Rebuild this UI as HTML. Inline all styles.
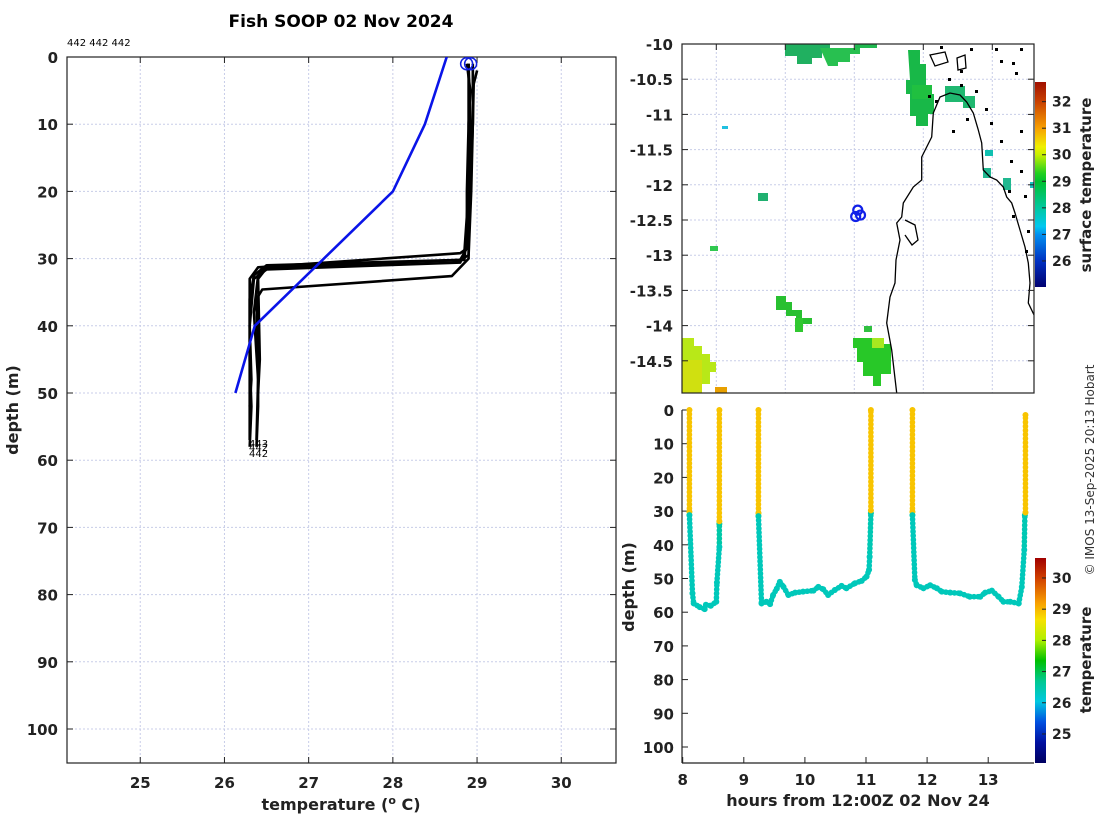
<!DOCTYPE html>
<html><head><meta charset="utf-8">
<style>
html,body{margin:0;padding:0;background:#fff;}
body{width:1100px;height:820px;overflow:hidden;}
svg{display:block;font-family:"DejaVu Sans","Liberation Sans",sans-serif;}
.tk{font-size:15px;font-weight:bold;fill:#222;}
.lab{font-size:16px;font-weight:bold;fill:#222;}
</style></head>
<body>
<svg id="fig" width="1100" height="820" viewBox="0 0 1100 820" xmlns="http://www.w3.org/2000/svg">
<defs>
<linearGradient id="sstGrad" x1="0" y1="0" x2="0" y2="1">
<stop offset="0" stop-color="#a01000"/><stop offset="0.096" stop-color="#c84000"/>
<stop offset="0.226" stop-color="#f8a000"/><stop offset="0.316" stop-color="#f0f000"/>
<stop offset="0.355" stop-color="#c8f000"/><stop offset="0.446" stop-color="#20d020"/>
<stop offset="0.485" stop-color="#00c030"/><stop offset="0.615" stop-color="#00c8a0"/>
<stop offset="0.705" stop-color="#00c8f0"/><stop offset="0.744" stop-color="#0090f0"/>
<stop offset="0.874" stop-color="#0030c0"/><stop offset="1" stop-color="#000070"/>
</linearGradient>
<linearGradient id="tGrad" x1="0" y1="0" x2="0" y2="1">
<stop offset="0" stop-color="#a00000"/><stop offset="0.1" stop-color="#d04000"/>
<stop offset="0.22" stop-color="#f8a000"/><stop offset="0.3" stop-color="#f8e000"/>
<stop offset="0.4" stop-color="#b0f000"/><stop offset="0.5" stop-color="#00c000"/>
<stop offset="0.6" stop-color="#00c890"/><stop offset="0.7" stop-color="#00c8e0"/>
<stop offset="0.8" stop-color="#0050e0"/><stop offset="0.9" stop-color="#0010a0"/>
<stop offset="1" stop-color="#000060"/>
</linearGradient>
<clipPath id="mapClip"><rect x="682" y="44" width="352" height="349"/></clipPath>
<clipPath id="leftClip"><rect x="67" y="57" width="549" height="706"/></clipPath>
</defs>
<g id="left"></g>
<g id="map"></g>
<g id="ts"></g>
<text x="341" y="27" text-anchor="middle" style="font-size:17px;font-weight:bold">Fish SOOP 02 Nov 2024</text>
<text x="67" y="46" style="font-size:10px">442 442 442</text>
<text transform="translate(1094,470) rotate(-90)" text-anchor="middle" style="font-size:12px;fill:#333">© IMOS 13-Sep-2025 20:13 Hobart</text>
</svg>
<script>
// ---------- profile data ----------
const blueTemps=[28.64,28.51,28.38,28.0,26.36,26.13];
const blueDepths=[0,5,10,20,40,50];
const p1Temps=[28.88,28.92,28.9,28.92,28.9,28.8,26.5,26.35,26.3,26.3,26.32,26.3];
const p1Depths=[1,5,10,20,28,30.2,31.0,32.5,36,45,52,58];
const p2Temps=[28.95,28.95,28.95,28.9,28.9,28.7,26.45,26.38,26.4,26.4,26.38];
const p2Depths=[2,5,10,20,30,32.6,34.6,36,45,52,58];
const p3Temps=[28.9,28.9,28.88,28.88,28.8,26.4,26.3,26.3,26.3,26.3];
const p3Depths=[1,10,20,28.5,29.2,31.3,33,40,50,57];
const p4Temps=[28.95,28.95,28.93,28.9,28.8,26.5,26.4,26.42,26.4];
const p4Depths=[1,10,20,29.5,30.2,31.4,33,45,50];
const p5Temps=[28.9,28.92,28.9,28.85,28.8,26.5,26.35,26.3,26.32,26.3];
const p5Depths=[1,10,20,29,30.6,31.6,33,40,48,52];
const p6Temps=[29.0,28.96,28.95,28.92,28.85,26.5,26.4,26.35,26.4,26.38];
const p6Depths=[2,4,10,20,30.2,31.2,32.5,38,48,57];
const tempTicks=[25,26,27,28,29,30];
const depthTicks=[0,10,20,30,40,50,60,70,80,90,100];
// ---------- depth-time data ----------
const tsHours=[8.11,8.11,8.11,8.16,8.18,8.28,8.36,8.38,8.46,8.55,8.56,8.60,8.60,8.60,8.60,
 null,9.24,9.24,9.24,9.29,9.37,9.43,9.48,9.54,9.59,9.65,9.73,9.84,9.97,10.14,10.22,10.30,10.38,10.49,10.60,10.68,10.82,10.93,11.01,11.05,11.06,11.08,11.08,11.08,
 null,11.76,11.76,11.76,11.80,11.83,11.94,12.05,12.16,12.24,12.38,12.54,12.70,12.87,12.95,13.06,13.17,13.25,13.36,13.50,13.55,13.59,13.60,13.61,13.61];
const tsDepths=[0,30.2,31.2,54.4,57.4,58.5,59.1,57.8,58.1,56.9,51.2,40.6,33.8,33.0,0,
 null,0,30.6,31.5,57.4,56.9,57.6,54.9,53,51,52.5,54.9,54.2,53.9,53.6,52.5,53.2,54.9,53.4,52.2,52.9,51.4,50.7,49.4,47.4,43.5,30.6,29.8,0,
 null,0,30.2,31.2,50.4,52,52.9,52,52.9,53.9,54.2,54.4,55.4,55.4,54.2,53.6,55.4,56.9,56.9,57.4,52.5,41.5,31.2,30.4,1.5];
const tsTemps=[28.9,28.9,26.35,26.35,26.35,26.35,26.35,26.35,26.35,26.35,26.35,26.35,26.5,28.9,28.9,
 null,28.9,28.9,26.4,26.35,26.35,26.35,26.35,26.35,26.35,26.35,26.35,26.35,26.35,26.35,26.35,26.35,26.35,26.35,26.35,26.35,26.35,26.35,26.35,26.35,26.35,26.4,28.9,28.9,
 null,28.9,28.9,26.4,26.35,26.35,26.35,26.35,26.35,26.35,26.35,26.35,26.35,26.35,26.35,26.35,26.35,26.35,26.35,26.35,26.35,26.35,26.4,28.9,28.9];
const hourTicks=[8,9,10,11,12,13];
// ---------- map data ----------
const lonTicks=[139,140,141,142,143];
const latTicks=[-10,-10.5,-11,-11.5,-12,-12.5,-13,-13.5,-14,-14.5];
const stationLons=[141.05,141.02,141.09];
const stationLats=[-12.36,-12.45,-12.43];
const sstTicks=[26,27,28,29,30,31,32];
const tTicks=[25,26,27,28,29,30];

const NS='http://www.w3.org/2000/svg';
function mk(parent,tag,attrs){const e=document.createElementNS(NS,tag);for(const k in attrs)e.setAttribute(k,attrs[k]);parent.appendChild(e);return e;}
function txt(parent,x,y,s,cls,anchor){const t=mk(parent,'text',{x:x,y:y,'text-anchor':anchor||'middle',class:cls});t.textContent=s;return t;}

// ===== LEFT PROFILE PLOT =====
const L=document.getElementById('left');
const lx=t=>67+(t-24.13)*84.2;
const ly=d=>57+d*6.72;
for(const t of tempTicks){
 const g=mk(L,'line',{x1:lx(t),x2:lx(t),y1:57,y2:763,stroke:'#c8cde8','stroke-dasharray':'2,2'});
 
 
 mk(L,'line',{x1:lx(t),x2:lx(t),y1:763,y2:757,stroke:'#222'});
 mk(L,'line',{x1:lx(t),x2:lx(t),y1:57,y2:63,stroke:'#222'});
 const tl=txt(L,lx(t),788,String(t),'tk');
 
 
}
for(const d of depthTicks){
 if(d>0){const g=mk(L,'line',{x1:67,x2:616,y1:ly(d),y2:ly(d),stroke:'#c8cde8','stroke-dasharray':'2,2'});
 
 }
 mk(L,'line',{x1:67,x2:73,y1:ly(d),y2:ly(d),stroke:'#222'});
 mk(L,'line',{x1:616,x2:610,y1:ly(d),y2:ly(d),stroke:'#222'});
 const tl=txt(L,58,ly(d)+6,String(d),'tk','end');
 
 
}
const lr=mk(L,'rect',{x:67,y:57,width:549,height:706,fill:'none',stroke:'#222','stroke-width':1.2});


const lp=mk(L,'g',{'clip-path':'url(#leftClip)'});
const profiles=[[p1Temps,p1Depths],[p2Temps,p2Depths],[p3Temps,p3Depths],[p4Temps,p4Depths],[p5Temps,p5Depths],[p6Temps,p6Depths]];
profiles.forEach((p,i)=>{
 const pts=p[0].map((t,j)=>lx(t).toFixed(1)+','+ly(p[1][j]).toFixed(1)).join(' ');
 const pl=mk(lp,'polyline',{points:pts,fill:'none',stroke:'#000','stroke-width':2.6,'stroke-linejoin':'round'});
 
 
});
{
 const pts=blueTemps.map((t,j)=>lx(t).toFixed(1)+','+ly(blueDepths[j]).toFixed(1)).join(' ');
 const bl=mk(lp,'polyline',{points:pts,fill:'none',stroke:'#0a14e8','stroke-width':2.6});
 
 
}
for(const dx of [-2,2]){
 const c=mk(L,'circle',{cx:lx(28.9)+dx,cy:ly(1),r:6,fill:'none',stroke:'#1020e0','stroke-width':1.5});
 
 
}
[['443',447],['442',451],['442',457]].forEach(([s,y])=>{
 const t=mk(L,'text',{x:249,y:y,style:'font-size:10px'});t.textContent=s;
 
 
});
{const t=mk(L,'text',{transform:'translate(18,410) rotate(-90)','text-anchor':'middle',class:'lab'});t.textContent='depth (m)';


const t2=mk(L,'text',{x:341,y:810,'text-anchor':'middle',class:'lab'});
t2.innerHTML='temperature (<tspan dy="-6" style="font-size:11px">o</tspan><tspan dy="6"> C)</tspan>';

}

// ===== MAP =====
const M=document.getElementById('map');
const mx=lon=>854.3+(lon-141)*69;
const my=lat=>44+(-10-lat)*70.4;
const mg=mk(M,'g',{'clip-path':'url(#mapClip)'});
for(const lon of lonTicks){
 mk(mg,'line',{x1:mx(lon),x2:mx(lon),y1:44,y2:393,stroke:'#c8cde8','stroke-dasharray':'2,2'});
 mk(M,'line',{x1:mx(lon),x2:mx(lon),y1:44,y2:50,stroke:'#222'});
 const tl=txt(M,mx(lon),421,String(lon),'tk');
 
 
}
for(const lat of latTicks){
 mk(mg,'line',{x1:682,x2:1034,y1:my(lat),y2:my(lat),stroke:'#c8cde8','stroke-dasharray':'2,2'});
 mk(M,'line',{x1:682,x2:688,y1:my(lat),y2:my(lat),stroke:'#222'});
 mk(M,'line',{x1:1034,x2:1028,y1:my(lat),y2:my(lat),stroke:'#222'});
 const tl=txt(M,673,my(lat)+6,String(lat),'tk','end');
 
 
}
const patches=[
 ['#20b060','M785 42h45v8h-8v8h-10v6h-15v-8h-12z'],['#28c050','M820 48h40v6h-10v8h-12v4h-10z'],
 ['#20b850','M855 42h22v6h-22z'],['#18b848','M908 50h12v14h6v30h8v20h-6v12h-12v-10h-6v-22h-4v-14h4z'],
 ['#20c040','M912 85h20v14h-20z'],['#20b870','M945 86h20v10h10v12h-12v-6h-18z'],
 ['#10c0b0','M985 150h8v6h-8z'],['#20b890','M983 168h8v10h-8z'],['#20b890','M1003 178h8v12h-8z'],
 ['#18c0c0','M1030 182h4v6h-4z'],['#20b070','M758 193h10v8h-10z'],['#30c850','M710 246h8v5h-8z'],
 ['#28c030','M776 296h10v6h6v8h10v8h10v6h-16v-8h-10v-6h-10z'],['#30c830','M795 318h8v14h-8z'],
 ['#30c040','M864 326h8v6h-8z'],
 ['#28c828','M857 338h26v6h8v30h-10v12h-8v-10h-10v-14h-6v-14h-4v-10z'],['#a8e820','M872 338h12v10h-12z'],
 ['#b8e818','M682 338h12v8h8v8h8v8h6v10h-6v12h-36z'],['#d0e010','M682 360h20v33h-20z'],
 ['#e8a000','M715 387h12v6h-12z'],['#20c0e0','M722 126h6v3h-6z']
];
patches.forEach((p,i)=>{
 const e=mk(mg,'path',{d:p[1],fill:p[0]});
 
 
});
const coast=mk(mg,'path',{d:'M896.7 393 L891.7 350 L886.7 323 L890 297 L895 283 L896 260 L900 240 L896.7 223 L901.7 217 L903.3 203 L913.3 187 L921.7 180 L921.7 157 L931.7 137 L933.3 113 L940 97 L950 93 L960 95 L966.7 102 L973.3 113 L978.3 130 L981.7 143 L983.3 170 L990 177 L996.7 180 L1003.3 187 L1006.7 197 L1011.7 203 L1015 213 L1020 230 L1025 247 L1028.3 263 L1030 283 L1028.3 303 L1035 317 M905 220 L915 225 L918 240 L912 245 L905 235 M930 55 L945 52 L948 62 L935 66 Z M957 58 L965 55 L966 68 L958 70 Z',fill:'none',stroke:'#000','stroke-width':1.3});


[[940,46],[948,78],[960,84],[975,90],[985,108],[990,122],[1000,60],[1012,62],[1020,48],[1015,72],[995,48],[970,48],[960,70],[1000,140],[1010,160],[1020,170],[1008,190],[1012,215],[1024,195],[1027,230],[1020,130],[1025,250],[935,100],[928,95],[966,118],[952,130]].forEach(([x,y])=>{
 const d=mk(mg,'rect',{x:x,y:y,width:3,height:3,fill:'#000'});
 
 
});
stationLons.forEach((lon,i)=>{
 const c=mk(M,'circle',{cx:mx(lon),cy:my(stationLats[i]),r:4.5,fill:'none',stroke:'#1020e8','stroke-width':2.2});
 
 
});
const mr=mk(M,'rect',{x:682,y:44,width:352,height:349,fill:'none',stroke:'#222','stroke-width':1.2});


const sy=t=>82+(32.74-t)*26.55;
const cb1=mk(M,'rect',{x:1035,y:82,width:11,height:205,fill:'url(#sstGrad)'});


for(const t of sstTicks){
 mk(M,'line',{x1:1046,x2:1042,y1:sy(t),y2:sy(t),stroke:'#222'});
 const tl=txt(M,1052,sy(t)+5,String(t),'tk','start');
 tl.style.fontSize='14px';
 
 
}
{const t=mk(M,'text',{transform:'translate(1091,185) rotate(-90)','text-anchor':'middle',class:'lab',style:'font-size:15px'});t.textContent='surface temperature';

}

// ===== DEPTH-TIME PLOT =====
const T=document.getElementById('ts');
mk(T,'rect',{x:640,y:403,width:394,height:360,fill:'#fff'});
const hx=h=>682.7+(h-8)*61.1;
const dy=d=>410+d*3.37;
for(const h of hourTicks){
 mk(T,'line',{x1:hx(h),x2:hx(h),y1:763,y2:757,stroke:'#222'});
 const tl=txt(T,hx(h),785,String(h),'tk');
 
 
}
for(const d of depthTicks){
 mk(T,'line',{x1:682,x2:688,y1:dy(d),y2:dy(d),stroke:'#222'});
 const tl=txt(T,674,dy(d)+6,String(d),'tk','end');
 
 
}
mk(T,'line',{x1:682,x2:682,y1:410,y2:763,stroke:'#222','stroke-width':1.2});
mk(T,'line',{x1:682,x2:1034,y1:763,y2:763,stroke:'#222','stroke-width':1.2});
const tmin=24.07,tmax=30.64;
const stops=[[0,[160,0,0]],[0.1,[208,64,0]],[0.22,[248,160,0]],[0.3,[248,224,0]],[0.4,[176,240,0]],[0.5,[0,192,0]],[0.6,[0,200,144]],[0.7,[0,200,224]],[0.8,[0,80,224]],[0.9,[0,16,160]],[1,[0,0,96]]];
function tcol(t){
 const f=Math.max(0,Math.min(1,(tmax-t)/(tmax-tmin)));
 for(let i=1;i<stops.length;i++){if(f<=stops[i][0]){const a=stops[i-1],b=stops[i];const u=(f-a[0])/(b[0]-a[0]);
 return 'rgb('+a[1].map((v,k)=>Math.round(v+(b[1][k]-v)*u)).join(',')+')';}}
 return 'rgb(0,0,96)';
}
for(let i=1;i<tsHours.length;i++){
 if(tsHours[i]===null||tsHours[i-1]===null)continue;
 const c=tcol(tsTemps[i]);
 const s2=mk(T,'line',{x1:hx(tsHours[i-1]),y1:dy(tsDepths[i-1]),x2:hx(tsHours[i]),y2:dy(tsDepths[i]),stroke:c,'stroke-width':4.4});
 
 
 const s=mk(T,'line',{x1:hx(tsHours[i-1]),y1:dy(tsDepths[i-1]),x2:hx(tsHours[i]),y2:dy(tsDepths[i]),stroke:c,'stroke-width':5.6,'stroke-linecap':'round','stroke-dasharray':'0.1,4'});
 
 
}
tsHours.forEach((h,i)=>{
 if(h===null)return;
 const p=mk(T,'circle',{cx:hx(h),cy:dy(tsDepths[i]),r:3,fill:tcol(tsTemps[i])});
 
 
});
const ty=t=>558+(tmax-t)*31.2;
const cb2=mk(T,'rect',{x:1035,y:558,width:11,height:205,fill:'url(#tGrad)'});


for(const t of tTicks){
 mk(T,'line',{x1:1046,x2:1042,y1:ty(t),y2:ty(t),stroke:'#222'});
 const tl=txt(T,1052,ty(t)+5,String(t),'tk','start');
 tl.style.fontSize='14px';
 
 
}
{const t=mk(T,'text',{transform:'translate(1091,660) rotate(-90)','text-anchor':'middle',class:'lab',style:'font-size:15px'});t.textContent='temperature';


const a=mk(T,'text',{transform:'translate(634,587) rotate(-90)','text-anchor':'middle',class:'lab'});a.textContent='depth (m)';


const b=mk(T,'text',{x:858,y:806,'text-anchor':'middle',class:'lab'});b.textContent='hours from 12:00Z 02 Nov 24';

}
</script>
</body></html>
